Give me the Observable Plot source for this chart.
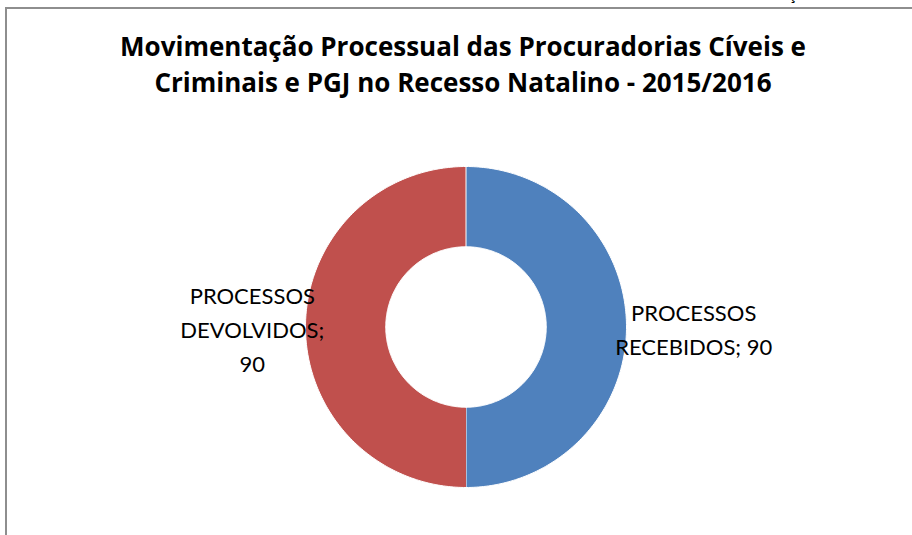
<!DOCTYPE html>
<html><head><meta charset="utf-8">
<script src="https://cdn.jsdelivr.net/npm/d3@7"></script>
<script src="https://cdn.jsdelivr.net/npm/@observablehq/plot@0.6"></script>
<style>
html,body{margin:0;padding:0;background:#fff;overflow:hidden;}
#wrap{position:relative;width:912px;height:535px;overflow:hidden;}
#chart{position:absolute;left:0;top:0;}
#border{position:absolute;left:5px;top:7px;width:1000px;height:1000px;border:2px solid #8e8e8e;box-sizing:border-box;pointer-events:none;}
#title{position:absolute;left:0;top:28px;width:926px;text-align:center;font-family:"Open Sans",Lato,sans-serif;font-weight:bold;font-size:26px;line-height:36px;color:#000;letter-spacing:0;}
#frag{position:absolute;left:788px;top:-16px;font-family:Lato,sans-serif;font-size:18px;line-height:18px;color:#000;}
</style>
</head><body>
<div id="wrap">
  <div id="chart"></div>
  <div id="title">Movimentação Processual das Procuradorias Cíveis e<br>Criminais e PGJ no Recesso Natalino - 2015/2016</div>
  <div id="frag">ç</div>
  <div id="border"></div>
</div>
<script>
const categories = ["PROCESSOS RECEBIDOS", "PROCESSOS DEVOLVIDOS"];
const values = [90, 90];
const labelSeparators = [" ", "\n"];
const colors = ["#4F81BD", "#C0504D"];

const cx = 465.5, cy = 326.5, R = 160.5, innerRatio = 0.5, labelR = 1.375;

const data = categories.map((c, i) => ({category: c, value: values[i], sep: labelSeparators[i]}));
const arcs = d3.pie().sort(null).value(d => d.value)(data);

const pts = [];
arcs.forEach(a => {
  const n = 200;
  for (let k = 0; k <= n; k++) {
    const t = a.startAngle + (a.endAngle - a.startAngle) * k / n;
    pts.push({category: a.data.category, x: Math.sin(t), y: Math.cos(t)});
  }
  for (let k = n; k >= 0; k--) {
    const t = a.startAngle + (a.endAngle - a.startAngle) * k / n;
    pts.push({category: a.data.category, x: innerRatio * Math.sin(t), y: innerRatio * Math.cos(t)});
  }
});

const labels = arcs.map(a => {
  const mid = (a.startAngle + a.endAngle) / 2;
  const parts = a.data.category.split(" ");
  return {
    x: labelR * Math.sin(mid),
    y: labelR * Math.cos(mid),
    text: parts[0] + "\n" + parts.slice(1).join(" ") + ";" + a.data.sep + a.data.value
  };
});

const plot = Plot.plot({
  width: 912,
  height: 535,
  margin: 0,
  style: {background: "transparent"},
  x: {domain: [-1, 1], range: [cx - R, cx + R], axis: null},
  y: {domain: [-1, 1], range: [cy + R, cy - R], axis: null},
  color: {domain: categories, range: colors},
  marks: [
    Plot.line(pts, {x: "x", y: "y", z: "category", fill: "category", stroke: "white", strokeWidth: 1, curve: "linear"}),
    Plot.text(labels, {x: "x", y: "y", text: "text", dx: 7, fontSize: 22, lineHeight: 1.55, fill: "#000", fontFamily: "Lato, 'Open Sans', sans-serif"})
  ]
});
document.getElementById("chart").appendChild(plot);
</script>
</body></html>
